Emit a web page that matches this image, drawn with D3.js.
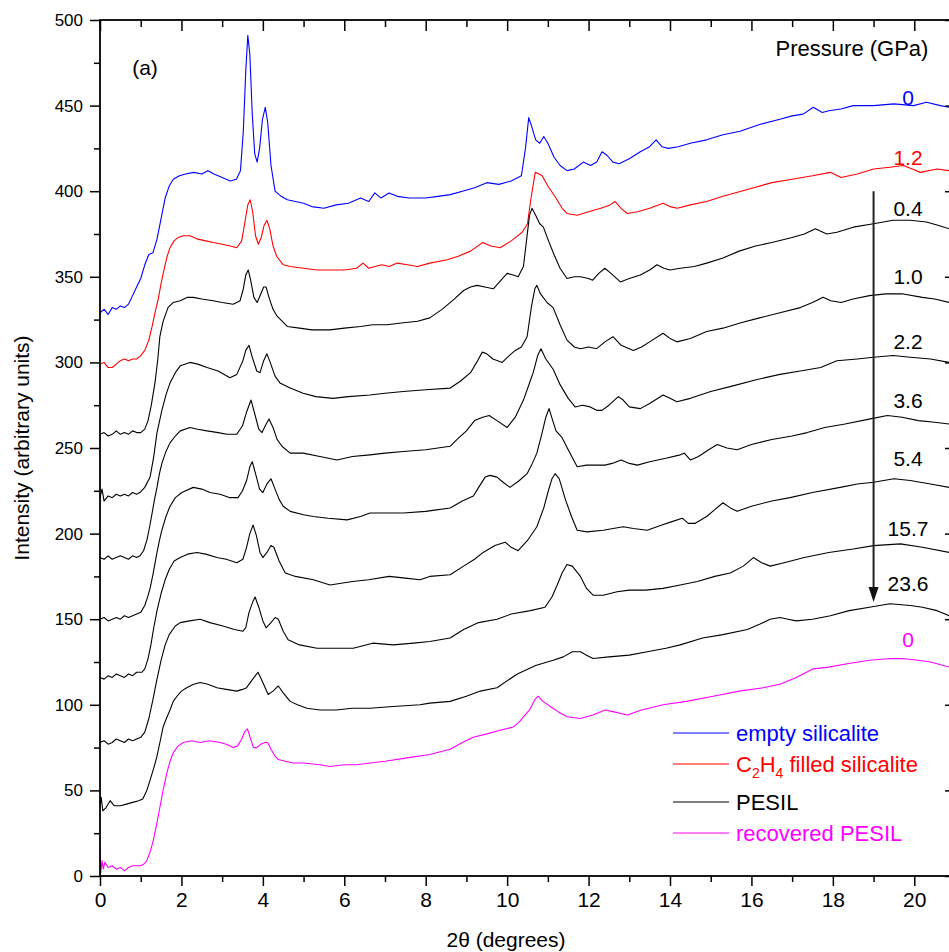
<!DOCTYPE html>
<html>
<head>
<meta charset="utf-8">
<script src="https://cdn.jsdelivr.net/npm/d3@7"></script>
<style>
  html, body { margin: 0; padding: 0; background: #fff; }
  svg { display: block; }
  text { font-family: "Liberation Sans", Arial, Helvetica, sans-serif; }
</style>
</head>
<body>
<svg id="chart" width="949" height="952"></svg>
<script>
// ---------------- DATA ----------------
const xMajorTicks = [0, 2, 4, 6, 8, 10, 12, 14, 16, 18, 20];
const xMinorTicks = [1, 3, 5, 7, 9, 11, 13, 15, 17, 19, 21];
const yMajorTicks = [0, 50, 100, 150, 200, 250, 300, 350, 400, 450, 500];
const yMinorTicks = [25, 75, 125, 175, 225, 275, 325, 375, 425, 475];

const legendNames = ["empty silicalite", "C2H4 filled silicalite", "PESIL", "recovered PESIL"];
const pressureTitle = "Pressure (GPa)";
const pressureLabels = ["0", "1.2", "0.4", "1.0", "2.2", "3.6", "5.4", "15.7", "23.6", "0"];
const pressureLabelY = [455, 420, 390, 350, 312, 278, 244, 203, 171, 138];
const arrowFrom = [19, 400];
const arrowTo = [19, 160];

// empty silicalite, 0 GPa
const emptySilicalite = [[0,329],[0.1,331],[0.2,328],[0.3,332],[0.4,331],[0.5,333],[0.6,332],[0.7,334],[0.8,339],[0.9,344],[1.0,349],[1.1,357],[1.2,363],[1.3,364],[1.4,372],[1.5,384],[1.6,396],[1.7,403],[1.8,407],[1.95,409],[2.1,410],[2.3,411],[2.5,410],[2.65,412],[2.8,410],[3.0,408],[3.2,406],[3.35,407],[3.45,412],[3.52,435],[3.58,470],[3.63,491],[3.68,480],[3.74,445],[3.8,422],[3.86,417],[3.92,425],[3.99,442],[4.06,449],[4.12,440],[4.2,415],[4.3,400],[4.45,397],[4.6,395],[4.8,394],[5.0,393],[5.2,391],[5.5,390],[5.8,392],[6.1,393],[6.4,396],[6.6,394],[6.75,399],[6.9,396],[7.1,399],[7.3,397],[7.6,396],[8.0,396],[8.3,397],[8.6,398],[8.9,400],[9.2,402],[9.5,405],[9.8,404],[10.1,406],[10.35,409],[10.45,425],[10.53,443],[10.6,438],[10.7,430],[10.8,428],[10.9,432],[11.0,428],[11.15,420],[11.3,415],[11.47,412],[11.65,413],[11.87,417],[12.05,415],[12.2,417],[12.33,423],[12.45,421],[12.6,417],[12.75,416],[13.0,419],[13.27,423],[13.5,426],[13.66,430],[13.8,426],[13.96,425],[14.2,426],[14.5,428],[14.9,430],[15.3,433],[15.72,435],[16.2,439],[16.7,442],[17.0,444],[17.27,445],[17.52,449],[17.74,446],[17.9,447],[18.2,448],[18.5,450],[19.0,450],[19.5,451],[19.98,450],[20.3,452],[20.64,450],[20.86,449],[21,448]];

// C2H4 filled silicalite, 1.2 GPa
const filledSilicalite = [[0,299],[0.1,300],[0.2,297],[0.3,297],[0.4,299],[0.5,301],[0.6,302],[0.7,301],[0.8,302],[0.9,302],[1.0,304],[1.1,307],[1.2,313],[1.28,321],[1.36,330],[1.43,337],[1.5,346],[1.58,355],[1.65,362],[1.72,367],[1.82,371],[1.92,373],[2.05,374],[2.21,374],[2.4,372],[2.6,371],[2.78,370],[3.0,369],[3.2,368],[3.36,367],[3.48,371],[3.56,382],[3.63,392],[3.69,395],[3.75,388],[3.82,374],[3.89,369],[3.96,373],[4.03,380],[4.1,383],[4.17,378],[4.25,368],[4.34,362],[4.5,357],[4.67,356],[5.0,355],[5.33,354],[5.7,354],[6.0,354],[6.3,355],[6.46,358],[6.6,355],[6.92,357],[7.1,356],[7.3,358],[7.55,357],[7.8,356],[8.1,358],[8.53,360],[8.8,362],[9.1,365],[9.4,370],[9.6,368],[9.83,367],[10.1,371],[10.37,376],[10.5,381],[10.58,395],[10.69,411],[10.78,410],[10.86,409],[11.0,403],[11.2,396],[11.35,390],[11.47,387],[11.72,386],[12.0,388],[12.3,390],[12.53,392],[12.65,394],[12.8,390],[12.95,387],[13.2,388],[13.5,390],[13.83,393],[14.0,391],[14.18,390],[14.5,392],[14.9,394],[15.3,397],[15.9,401],[16.5,405],[17.0,407],[17.5,409],[17.94,411],[18.2,408],[18.6,410],[19.0,413],[19.4,414],[19.73,415],[19.95,413],[20.15,411],[20.56,413],[20.86,412],[21,411]];

// PESIL, 0.4 GPa
const pesil04 = [[0,258],[0.1,259],[0.2,257],[0.3,258],[0.4,260],[0.5,258],[0.6,259],[0.7,258],[0.8,260],[0.9,259],[1.0,259],[1.1,261],[1.18,266],[1.26,275],[1.35,288],[1.42,302],[1.47,315],[1.55,324],[1.67,332],[1.8,335],[1.97,336],[2.15,338],[2.29,338],[2.5,337],[2.78,336],[3.0,335],[3.27,334],[3.44,336],[3.52,343],[3.58,351],[3.64,354],[3.7,348],[3.78,338],[3.86,335],[3.95,340],[4.02,344],[4.08,344],[4.15,338],[4.25,331],[4.35,327],[4.6,321],[4.9,320],[5.2,319],[5.65,319],[6.0,320],[6.4,321],[6.7,322],[7.05,322],[7.4,323],[7.8,324],[8.1,326],[8.4,331],[8.7,337],[8.93,342],[9.1,344],[9.26,345],[9.45,344],[9.66,343],[9.85,348],[10.0,352],[10.15,351],[10.27,350],[10.4,356],[10.48,372],[10.55,386],[10.61,390],[10.7,386],[10.8,381],[10.89,379],[11.0,372],[11.15,363],[11.3,355],[11.47,349],[11.65,350],[11.8,350],[12.0,349],[12.1,348],[12.25,352],[12.4,355],[12.55,352],[12.78,347],[13.0,349],[13.27,351],[13.5,354],[13.68,357],[13.85,355],[14.0,354],[14.25,355],[14.6,356],[14.9,358],[15.3,361],[15.7,365],[16.1,368],[16.5,370],[17.0,373],[17.3,375],[17.57,378],[17.85,375],[18.1,376],[18.5,379],[19.0,381],[19.48,383],[19.9,383],[20.3,382],[20.6,380],[20.86,378],[21,377]];

// PESIL, 1.0 GPa
const pesil10 = [[0,221],[0.05,226],[0.1,219],[0.2,222],[0.3,221],[0.4,223],[0.5,222],[0.6,223],[0.7,222],[0.8,224],[0.9,223],[0.98,224],[1.1,227],[1.23,233],[1.32,245],[1.4,259],[1.52,272],[1.62,281],[1.72,288],[1.85,294],[1.97,298],[2.21,300],[2.4,299],[2.63,297],[2.9,295],[3.19,291],[3.36,293],[3.51,301],[3.58,307],[3.66,310],[3.74,303],[3.85,295],[3.93,294],[4.02,301],[4.1,305],[4.18,300],[4.3,292],[4.42,288],[4.67,285],[4.99,282],[5.3,280],[5.72,279],[6.1,280],[6.63,281],[7.0,282],[7.45,283],[8.0,284],[8.6,285],[8.85,289],[9.1,294],[9.25,300],[9.39,306],[9.5,305],[9.65,302],[9.88,300],[10.05,304],[10.2,307],[10.35,309],[10.49,315],[10.6,333],[10.68,343],[10.73,345],[10.82,340],[10.98,335],[11.13,332],[11.3,322],[11.47,313],[11.65,309],[11.8,308],[12.0,309],[12.2,308],[12.4,312],[12.6,315],[12.8,310],[13.1,307],[13.3,309],[13.5,312],[13.83,317],[14.0,314],[14.17,312],[14.5,314],[14.9,318],[15.3,320],[15.72,323],[16.2,326],[16.7,329],[17.2,332],[17.5,335],[17.76,338],[17.95,336],[18.2,335],[18.5,337],[18.9,339],[19.3,340],[19.73,340],[20.2,338],[20.5,337],[20.86,335],[21,334]];

// PESIL, 2.2 GPa
const pesil22 = [[0,186],[0.1,185],[0.2,187],[0.3,185],[0.4,186],[0.5,187],[0.6,186],[0.7,185],[0.8,187],[0.9,186],[0.98,187],[1.07,190],[1.15,196],[1.22,204],[1.28,212],[1.34,220],[1.4,227],[1.46,235],[1.52,241],[1.62,248],[1.72,253],[1.85,257],[1.97,260],[2.21,262],[2.4,261],[2.63,260],[2.9,259],[3.12,258],[3.36,258],[3.5,263],[3.6,271],[3.71,278],[3.8,270],[3.9,261],[3.98,259],[4.06,263],[4.15,267],[4.25,262],[4.35,255],[4.47,251],[4.67,247],[4.99,247],[5.4,245],[5.82,243],[6.2,245],[6.63,246],[7.0,247],[7.45,248],[8.0,249],[8.6,251],[8.77,255],[9.0,260],[9.2,266],[9.4,268],[9.56,269],[9.75,266],[10.0,262],[10.2,268],[10.4,278],[10.55,288],[10.64,294],[10.75,304],[10.83,308],[10.95,302],[11.13,296],[11.3,287],[11.5,279],[11.67,274],[11.85,275],[12.04,274],[12.2,272],[12.33,272],[12.5,275],[12.73,280],[12.85,278],[13.0,274],[13.27,273],[13.5,276],[13.83,281],[14.0,279],[14.17,277],[14.5,279],[15.0,283],[15.5,286],[16.14,290],[16.7,293],[17.2,295],[17.7,297],[18.1,301],[18.6,302],[19.0,303],[19.48,304],[19.9,303],[20.4,302],[20.86,300],[21,299]];

// PESIL, 3.6 GPa
const pesil36 = [[0,150],[0.1,151],[0.2,149],[0.3,150],[0.4,151],[0.5,150],[0.6,152],[0.7,151],[0.8,152],[0.9,153],[1.0,154],[1.1,158],[1.17,163],[1.23,168],[1.3,176],[1.4,189],[1.46,196],[1.52,202],[1.62,210],[1.72,216],[1.85,221],[2.01,224],[2.29,227],[2.5,226],[2.7,224],[2.95,223],[3.19,221],[3.39,221],[3.5,225],[3.6,231],[3.68,239],[3.74,242],[3.82,235],[3.92,226],[4.0,224],[4.1,229],[4.2,232],[4.3,226],[4.4,220],[4.5,216],[4.67,213],[5.0,211],[5.24,210],[5.6,209],[6.07,208],[6.4,210],[6.63,212],[7.0,212],[7.45,212],[8.0,213],[8.6,215],[8.9,219],[9.17,222],[9.3,227],[9.46,233],[9.58,234],[9.75,233],[9.9,230],[10.07,227],[10.3,231],[10.49,235],[10.6,240],[10.73,247],[10.85,258],[10.95,268],[11.03,273],[11.12,266],[11.2,260],[11.35,256],[11.5,249],[11.72,239],[11.95,240],[12.2,240],[12.4,240],[12.58,241],[12.8,243],[13.0,241],[13.2,240],[13.5,242],[13.9,244],[14.25,246],[14.35,247],[14.5,243],[14.7,245],[14.95,249],[15.16,252],[15.4,250],[15.65,249],[16.0,252],[16.5,255],[17.0,257],[17.37,259],[17.8,262],[18.3,264],[18.92,267],[19.34,269],[19.7,268],[20.1,266],[20.5,265],[20.86,264],[21,263]];

// PESIL, 5.4 GPa
const pesil54 = [[0,116],[0.1,115],[0.2,117],[0.3,116],[0.4,118],[0.5,117],[0.6,116],[0.7,118],[0.8,117],[0.9,119],[1.03,119],[1.1,121],[1.18,127],[1.25,135],[1.32,145],[1.4,155],[1.5,165],[1.6,173],[1.7,179],[1.82,184],[1.97,186],[2.15,188],[2.38,189],[2.6,188],[2.87,186],[3.1,185],[3.36,183],[3.51,185],[3.6,192],[3.68,200],[3.76,205],[3.84,199],[3.93,189],[4.0,186],[4.1,189],[4.2,193],[4.27,192],[4.4,184],[4.55,177],[4.8,175],[5.24,173],[5.65,170],[6.2,172],[6.6,173],[7.1,175],[7.5,174],[7.86,173],[8.1,175],[8.6,176],[8.93,181],[9.2,185],[9.41,189],[9.7,193],[9.95,195],[10.1,192],[10.27,190],[10.5,196],[10.73,204],[10.9,215],[11.0,224],[11.1,232],[11.18,235],[11.28,232],[11.43,220],[11.58,210],[11.72,202],[11.96,201],[12.36,202],[12.85,204],[13.1,203],[13.44,202],[13.8,205],[14.05,207],[14.3,209],[14.45,206],[14.62,206],[14.9,210],[15.1,214],[15.3,218],[15.48,215],[15.65,213],[16.0,216],[16.5,219],[16.95,221],[17.5,224],[18.18,227],[18.6,229],[19.0,230],[19.5,232],[19.9,231],[20.4,229],[20.86,227],[21,226]];

// PESIL, 15.7 GPa
const pesil157 = [[0,78],[0.1,79],[0.2,77],[0.3,78],[0.4,80],[0.5,79],[0.6,78],[0.7,80],[0.8,79],[0.9,80],[1.0,81],[1.1,84],[1.2,92],[1.3,103],[1.4,115],[1.5,126],[1.6,135],[1.7,141],[1.85,146],[1.97,148],[2.2,149],[2.46,150],[2.7,148],[3.02,146],[3.3,144],[3.51,143],[3.58,145],[3.66,154],[3.75,160],[3.81,163],[3.9,157],[4.0,149],[4.08,145],[4.2,148],[4.3,151],[4.38,150],[4.5,143],[4.62,138],[4.9,135],[5.33,133],[5.8,133],[6.22,133],[6.7,136],[7.2,135],[7.7,136],[8.1,137],[8.6,139],[8.93,144],[9.3,148],[9.75,150],[10.1,153],[10.57,155],[10.93,157],[11.1,163],[11.23,170],[11.35,177],[11.47,182],[11.6,181],[11.8,175],[11.95,168],[12.11,164],[12.36,164],[12.7,166],[13.0,167],[13.4,167],[13.83,168],[14.25,170],[14.67,172],[15.1,175],[15.48,177],[15.8,181],[16.05,186],[16.25,183],[16.46,181],[16.8,183],[17.3,186],[17.9,189],[18.5,191],[19.0,193],[19.66,194],[20.2,192],[20.86,189],[21,188]];

// PESIL, 23.6 GPa
const pesil236 = [[0,40],[0.03,46],[0.07,38],[0.15,40],[0.25,44],[0.35,41],[0.5,41],[0.65,42],[0.8,43],[0.95,44],[1.05,45],[1.15,50],[1.23,56],[1.32,63],[1.4,70],[1.48,79],[1.55,87],[1.63,92],[1.72,97],[1.8,102],[1.89,105],[2.0,108],[2.13,110],[2.3,112],[2.46,113],[2.65,112],[2.87,110],[3.1,109],[3.36,108],[3.5,109],[3.6,110],[3.72,114],[3.88,119],[3.98,114],[4.13,106],[4.25,108],[4.38,111],[4.5,107],[4.67,102],[4.85,100],[5.08,98],[5.4,97],[5.8,97],[6.2,98],[6.63,98],[7.2,99],[7.86,100],[8.1,101],[8.6,102],[9.0,105],[9.34,108],[9.75,110],[10.25,118],[10.7,123],[11.13,126],[11.38,128],[11.6,131],[11.8,131],[11.95,129],[12.11,127],[12.5,128],[13.0,129],[13.44,131],[13.9,133],[14.25,135],[14.8,139],[15.3,141],[15.9,144],[16.2,147],[16.46,150],[16.7,151],[16.9,150],[17.1,149],[17.5,150],[17.94,152],[18.4,155],[18.9,157],[19.4,159],[19.9,158],[20.2,157],[20.56,155],[20.86,152],[21,151]];

// recovered PESIL, 0 GPa
const recoveredPesil = [[0,17],[0.02,2],[0.05,9],[0.08,4],[0.12,8],[0.2,5],[0.3,6],[0.4,4],[0.5,5],[0.6,3],[0.7,5],[0.8,6],[0.9,6],[1.0,6],[1.08,7],[1.15,9],[1.23,14],[1.31,21],[1.39,30],[1.47,40],[1.55,50],[1.64,60],[1.72,67],[1.8,72],[1.92,76],[2.05,78],[2.25,79],[2.46,78],[2.7,79],[2.95,78],[3.1,77],[3.27,75],[3.38,76],[3.48,80],[3.55,84],[3.62,86],[3.7,80],[3.77,75],[3.85,75],[3.95,77],[4.05,78],[4.12,78],[4.2,74],[4.3,70],[4.38,68],[4.55,67],[4.75,66],[5.0,66],[5.4,65],[5.65,64],[6.0,65],[6.3,65],[6.63,66],[7.0,67],[7.54,69],[8.1,71],[8.6,74],[8.9,78],[9.17,81],[9.5,83],[9.8,85],[10.15,87],[10.3,90],[10.4,93],[10.55,97],[10.68,103],[10.76,105],[10.88,102],[11.06,99],[11.25,96],[11.47,93],[11.8,92],[12.1,94],[12.41,97],[12.6,96],[12.95,94],[13.3,97],[13.83,100],[14.4,102],[15.06,105],[15.7,108],[16.29,110],[16.7,112],[17.1,116],[17.52,121],[17.9,122],[18.35,124],[18.9,126],[19.41,127],[19.7,127],[20.1,126],[20.4,125],[20.86,122],[21,121]];

const curves = [emptySilicalite, filledSilicalite, pesil04, pesil10, pesil22, pesil36, pesil54, pesil157, pesil236, recoveredPesil];
const curveKinds = [0, 1, 2, 2, 2, 2, 2, 2, 2, 3];   // index into legendNames
const kindColors = ["#0000ff", "#ff0000", "#000000", "#ff00ff"];

// ---------------- CHART ----------------
const svg = d3.select("#chart");
const W = 949, H = 952;
svg.append("rect").attr("width", W).attr("height", H).attr("fill", "#fff");

const x = d3.scaleLinear().domain([0, 21]).range([100, 955]);
const y = d3.scaleLinear().domain([0, 500]).range([876, 20]);

svg.append("defs").append("clipPath").attr("id", "plotclip")
  .append("rect").attr("x", 100).attr("y", 20).attr("width", 855).attr("height", 856);

// curves
const line = d3.line().x(d => x(d[0])).y(d => y(d[1]));
const gCurves = svg.append("g").attr("clip-path", "url(#plotclip)");
curves.forEach((c, i) => {
  gCurves.append("path").datum(c)
    .attr("d", line)
    .attr("fill", "none")
    .attr("stroke", kindColors[curveKinds[i]])
    .attr("stroke-width", 1.1)
    .attr("stroke-linejoin", "round");
});

// arrow
const ax = x(arrowFrom[0]);
svg.append("line")
  .attr("x1", ax).attr("x2", ax)
  .attr("y1", y(arrowFrom[1])).attr("y2", y(arrowTo[1]) - 12)
  .attr("stroke", "#222").attr("stroke-width", 2);
svg.append("path")
  .attr("d", `M${ax - 5},${y(arrowTo[1]) - 15} L${ax + 5},${y(arrowTo[1]) - 15} L${ax},${y(arrowTo[1])} Z`)
  .attr("fill", "#111");

// axes
function styleAxis(g, fontSize) {
  g.select(".domain").remove();
  g.selectAll(".tick line").attr("stroke", "#000").attr("stroke-width", 1.5);
  g.selectAll(".tick text")
    .attr("font-family", '"Liberation Sans", Arial, Helvetica, sans-serif')
    .attr("font-size", fontSize).attr("fill", "#000");
}

const gLeft = svg.append("g").attr("transform", "translate(100,0)")
  .call(d3.axisLeft(y).tickValues(yMajorTicks).tickSize(10).tickPadding(7));
styleAxis(gLeft, 17);
const gLeftMinor = svg.append("g").attr("transform", "translate(100,0)")
  .call(d3.axisLeft(y).tickValues(yMinorTicks).tickSize(6).tickFormat(""));
styleAxis(gLeftMinor, 17);

const gBottom = svg.append("g").attr("transform", "translate(0,876)")
  .call(d3.axisBottom(x).tickValues(xMajorTicks).tickSize(10).tickPadding(6));
styleAxis(gBottom, 21);
const gBottomMinor = svg.append("g").attr("transform", "translate(0,876)")
  .call(d3.axisBottom(x).tickValues(xMinorTicks).tickSize(6).tickFormat(""));
styleAxis(gBottomMinor, 21);

const gTop = svg.append("g").attr("transform", "translate(0,20)")
  .call(d3.axisTop(x).tickValues(xMajorTicks).tickSize(-11).tickFormat(""));
styleAxis(gTop, 12);
const gTopMinor = svg.append("g").attr("transform", "translate(0,20)")
  .call(d3.axisTop(x).tickValues(xMinorTicks).tickSize(-7).tickFormat(""));
styleAxis(gTopMinor, 12);

const gRight = svg.append("g").attr("transform", "translate(955,0)")
  .call(d3.axisRight(y).tickValues(yMajorTicks).tickSize(-10).tickFormat(""));
styleAxis(gRight, 12);
const gRightMinor = svg.append("g").attr("transform", "translate(955,0)")
  .call(d3.axisRight(y).tickValues(yMinorTicks).tickSize(-6).tickFormat(""));
styleAxis(gRightMinor, 12);

// frame
svg.append("rect").attr("x", 100).attr("y", 20).attr("width", 855).attr("height", 856)
  .attr("fill", "none").attr("stroke", "#000").attr("stroke-width", 1.8);

// axis titles
svg.append("text").attr("x", 506).attr("y", 947).attr("text-anchor", "middle")
  .attr("font-size", 21).text("2θ (degrees)");
svg.append("text").attr("transform", "translate(29,448) rotate(-90)")
  .attr("text-anchor", "middle").attr("font-size", 21)
  .text("Intensity (arbitrary units)");

// panel label and pressure title
svg.append("text").attr("x", 145).attr("y", 75).attr("text-anchor", "middle")
  .attr("font-size", 21).text("(a)");
svg.append("text").attr("x", 852).attr("y", 56).attr("text-anchor", "middle")
  .attr("font-size", 22).text(pressureTitle);

// pressure labels
pressureLabels.forEach((t, i) => {
  svg.append("text")
    .attr("x", 908).attr("y", y(pressureLabelY[i]))
    .attr("dy", "0.36em")
    .attr("text-anchor", "middle")
    .attr("font-size", 21)
    .attr("fill", kindColors[curveKinds[i]])
    .text(t);
});

// legend
const legendY = [733, 764, 802, 833];
const gLeg = svg.append("g");
legendNames.forEach((name, i) => {
  gLeg.append("line").attr("x1", 673).attr("x2", 729)
    .attr("y1", legendY[i]).attr("y2", legendY[i])
    .attr("stroke", kindColors[i]).attr("stroke-width", 1.2);
  const t = gLeg.append("text").attr("x", 736).attr("y", legendY[i]).attr("dy", "0.36em")
    .attr("font-size", 22).attr("fill", kindColors[i]);
  if (name.startsWith("C2H4")) {
    t.append("tspan").text("C");
    t.append("tspan").attr("font-size", 14).attr("dy", 6).text("2");
    t.append("tspan").attr("dy", -6).text("H");
    t.append("tspan").attr("font-size", 14).attr("dy", 6).text("4");
    t.append("tspan").attr("dy", -6).text(name.slice(4));
  } else {
    t.text(name);
  }
});
</script>
</body>
</html>
